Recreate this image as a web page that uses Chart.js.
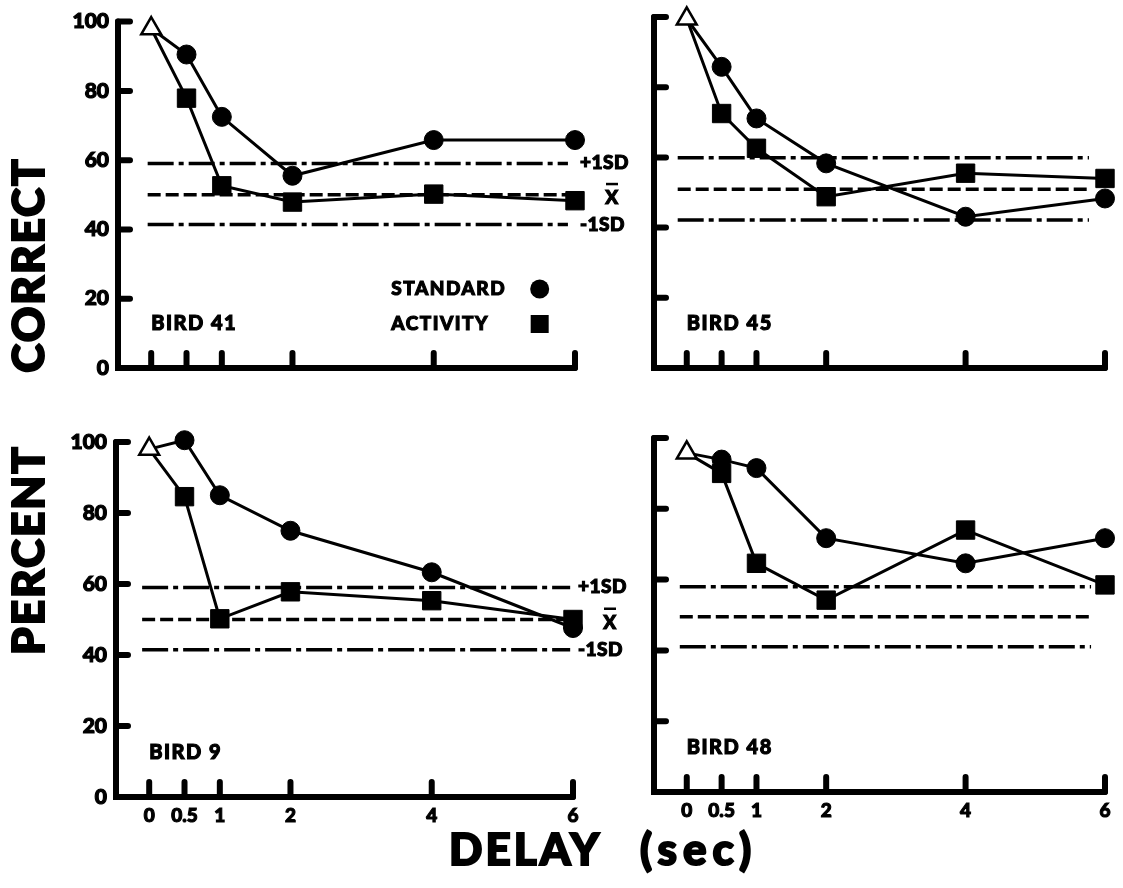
<!DOCTYPE html>
<html>
<head>
<meta charset="utf-8">
<script src="https://cdn.jsdelivr.net/npm/chart.js@4"></script>
<style>
body { margin: 0; background: #fff; width: 1123px; height: 888px; position: relative; overflow: hidden; font-family: Lato, 'DejaVu Sans', sans-serif; }
canvas { position: absolute; }
.title { position: absolute; font-weight: 900; font-size: 44px; color: #000; white-space: pre; line-height: 1; -webkit-text-stroke: 2px #000; }
</style>
</head>
<body>
<canvas id="c41" width="640" height="420" style="left:0;top:0"></canvas>
<canvas id="c45" width="483" height="420" style="left:640px;top:0"></canvas>
<canvas id="c9" width="640" height="440" style="left:0;top:420px"></canvas>
<canvas id="c48" width="483" height="440" style="left:640px;top:420px"></canvas>
<div class="title" style="left:27px;top:265px;transform:translate(-50%,-50%) rotate(-90deg);letter-spacing:2px">CORRECT</div>
<div class="title" style="left:27px;top:550px;transform:translate(-50%,-50%) rotate(-90deg);letter-spacing:2px">PERCENT</div>
<div class="title" style="left:449px;top:826px;letter-spacing:3px">DELAY</div>
<div class="title" style="left:640px;top:826px;letter-spacing:6px">(sec)</div>
<script>
// delay values (sec) and tick labels
const delays = [0, 0.5, 1, 2, 4, 6];
const delayLabels = ['0', '0.5', '1', '2', '4', '6'];
const yTicks = [0, 20, 40, 60, 80, 100];

// percent correct; start = open triangle at delay 0, series for 0.5..6
const start41 = 98;
const standard41 = [90.5, 72.5, 55.5, 65.8, 65.8];
const activity41 = [77.9, 52.6, 47.9, 50.2, 48.3];
const sd41 = [59, 50, 41.4]; // +1SD, mean, -1SD

const start45 = 99.5;
const standard45 = [85.8, 71.1, 58.3, 43.1, 48.3];
const activity45 = [72.5, 62.6, 48.8, 55.5, 54];
const sd45 = [59.9, 50.9, 42.2];

const start9 = 98;
const standard9 = [100.5, 85, 75, 63.3, 47.6];
const activity9 = [84.6, 50.2, 57.8, 55.3, 50];
const sd9 = [59, 50, 41.5];

const start48 = 95.8;
const standard48 = [93.9, 91.5, 71.7, 64.6, 71.7];
const activity48 = [90, 64.6, 54.2, 74, 58.5];
const sd48 = [58, 49.5, 41];

// where the reference lines begin and end, in delay units
const span41 = [-0.05, 5.9];
const span45 = [-0.13, 5.77];
const span9 = [-0.1, 5.96];
const span48 = [-0.1, 5.8];

Chart.defaults.font.family = "Lato, 'DejaVu Sans', sans-serif";
Chart.defaults.font.weight = 900;
Chart.defaults.color = '#000';

function heavyText(ctx, text, x, y) {
    ctx.fillText(text, x, y);
    ctx.strokeText(text, x, y);
}

const axisPlugin = {
    id: 'axisPlugin',
    beforeDatasetsDraw(chart) {
        const { ctx, chartArea: a, scales: { x, y } } = chart;
        ctx.save();
        ctx.strokeStyle = '#000';
        ctx.lineWidth = 6;
        ctx.lineCap = 'round';
        ctx.beginPath();
        ctx.moveTo(a.left, a.top);
        ctx.lineTo(a.left, a.bottom);
        ctx.lineTo(a.right, a.bottom);
        ctx.stroke();
        ctx.beginPath();
        yTicks.forEach(v => {
            if (v === 0) return;
            const py = y.getPixelForValue(v);
            ctx.moveTo(a.left, py);
            ctx.lineTo(a.left + 12, py);
        });
        delays.forEach(v => {
            const px = x.getPixelForValue(v);
            ctx.moveTo(px, a.bottom);
            ctx.lineTo(px, a.bottom - 15);
        });
        ctx.stroke();
        ctx.restore();
    },
    afterDraw(chart, args, opts) {
        const { ctx, chartArea: a, scales: { x, y } } = chart;
        ctx.save();
        ctx.fillStyle = '#000';
        ctx.strokeStyle = '#000';
        ctx.lineWidth = 1.1;
        ctx.textBaseline = 'middle';
        ctx.font = "900 20px Lato, 'DejaVu Sans', sans-serif";
        ctx.letterSpacing = '1.5px';
        heavyText(ctx, opts.label, x.getPixelForValue(0), a.bottom - 44);

        if (opts.sdLabels) {
            const lx = a.right + 5;
            ctx.font = "900 19px Lato, 'DejaVu Sans', sans-serif";
            ctx.letterSpacing = '0.5px';
            heavyText(ctx, '+1SD', lx, y.getPixelForValue(opts.sd[0]) - 1);
            heavyText(ctx, '-1SD', lx, y.getPixelForValue(opts.sd[2]));
            const my = y.getPixelForValue(opts.sd[1]) + 1;
            ctx.textAlign = 'center';
            heavyText(ctx, 'X', lx + 32, my + 2);
            ctx.fillRect(lx + 26, my - 13, 12, 2.5);
        }

        if (opts.legend) {
            ctx.textAlign = 'left';
            ctx.font = "900 19px Lato, 'DejaVu Sans', sans-serif";
            ctx.letterSpacing = '1.5px';
            const lx = x.getPixelForValue(3.4);
            const mx = x.getPixelForValue(5.5);
            const y1 = a.bottom - 79, y2 = a.bottom - 44;
            heavyText(ctx, 'STANDARD', lx, y1);
            heavyText(ctx, 'ACTIVITY', lx, y2);
            ctx.beginPath();
            ctx.arc(mx, y1, 9.5, 0, Math.PI * 2);
            ctx.fill();
            ctx.fillRect(mx - 9, y2 - 9, 18, 18);
        }
        ctx.restore();
    }
};

function makePanel(id, box, start, standard, activity, sd, span, label, flags) {
    const canvas = document.getElementById(id);
    const cw = canvas.width, ch = canvas.height;
    const seriesPts = vals => [{ x: 0, y: start }].concat(vals.map((v, i) => ({ x: delays[i + 1], y: v })));
    const refLine = (v, dash) => ({
        data: [{ x: span[0], y: v }, { x: span[1], y: v }],
        borderColor: '#000', borderWidth: 3.5, borderDash: dash,
        pointRadius: 0, clip: false
    });

    return new Chart(canvas, {
        type: 'line',
        data: {
            datasets: [
                {
                    data: [{ x: 0, y: start }],
                    pointStyle: 'triangle', pointRadius: 11.5,
                    pointBackgroundColor: '#fff', pointBorderColor: '#000', pointBorderWidth: 2.5,
                    showLine: false, clip: false
                },
                {
                    data: seriesPts(standard),
                    borderColor: '#000', borderWidth: 3,
                    pointStyle: 'circle', pointRadius: [0, 9.5, 9.5, 9.5, 9.5, 9.5],
                    pointBackgroundColor: '#000', pointBorderColor: '#000', pointBorderWidth: 1,
                    clip: false
                },
                {
                    data: seriesPts(activity),
                    borderColor: '#000', borderWidth: 3,
                    pointStyle: 'rect', pointRadius: [0, 13, 13, 13, 13, 13],
                    pointBackgroundColor: '#000', pointBorderColor: '#000', pointBorderWidth: 1,
                    clip: false
                },
                refLine(sd[0], [26, 5, 5, 5]),
                refLine(sd[1], [13, 5]),
                refLine(sd[2], [26, 5, 5, 5])
            ]
        },
        options: {
            responsive: false,
            animation: false,
            events: [],
            layout: { padding: { top: box.top, right: cw - box.right, left: 0, bottom: 0 } },
            plugins: {
                legend: { display: false },
                tooltip: { enabled: false },
                axisPlugin: { label: label, sd: sd, sdLabels: flags.sdLabels, legend: flags.legend }
            },
            scales: {
                x: {
                    type: 'linear', min: -0.47, max: 6,
                    grid: { display: false, drawTicks: false },
                    border: { display: false },
                    afterBuildTicks: s => { s.ticks = delays.map(v => ({ value: v })); },
                    afterFit: s => { s.height = ch - box.bottom; },
                    ticks: {
                        display: flags.xLabels, padding: 7,
                        font: { size: 19, weight: 900 },
                        textStrokeColor: '#000', textStrokeWidth: 1.1,
                        callback: v => delayLabels[delays.indexOf(v)]
                    }
                },
                y: {
                    min: 0, max: 100,
                    grid: { display: false, drawTicks: false },
                    border: { display: false },
                    afterBuildTicks: s => { s.ticks = yTicks.map(v => ({ value: v })); },
                    afterFit: s => { s.width = box.left; },
                    ticks: {
                        display: flags.yLabels, padding: 9,
                        font: { size: 21, weight: 900 },
                        textStrokeColor: '#000', textStrokeWidth: 1.2
                    }
                }
            }
        },
        plugins: [axisPlugin]
    });
}

makePanel('c41', { left: 118, right: 575, top: 17, bottom: 368 }, start41, standard41, activity41, sd41, span41, 'BIRD 41',
    { yLabels: true, xLabels: false, sdLabels: true, legend: true });
makePanel('c45', { left: 9, right: 465, top: 17, bottom: 368 }, start45, standard45, activity45, sd45, span45, 'BIRD 45',
    { yLabels: false, xLabels: false, sdLabels: false, legend: false });
makePanel('c9', { left: 116, right: 573, top: 22, bottom: 377 }, start9, standard9, activity9, sd9, span9, 'BIRD 9',
    { yLabels: true, xLabels: true, sdLabels: true, legend: false });
makePanel('c48', { left: 10, right: 465, top: 18, bottom: 372 }, start48, standard48, activity48, sd48, span48, 'BIRD 48',
    { yLabels: false, xLabels: true, sdLabels: false, legend: false });
</script>
</body>
</html>
